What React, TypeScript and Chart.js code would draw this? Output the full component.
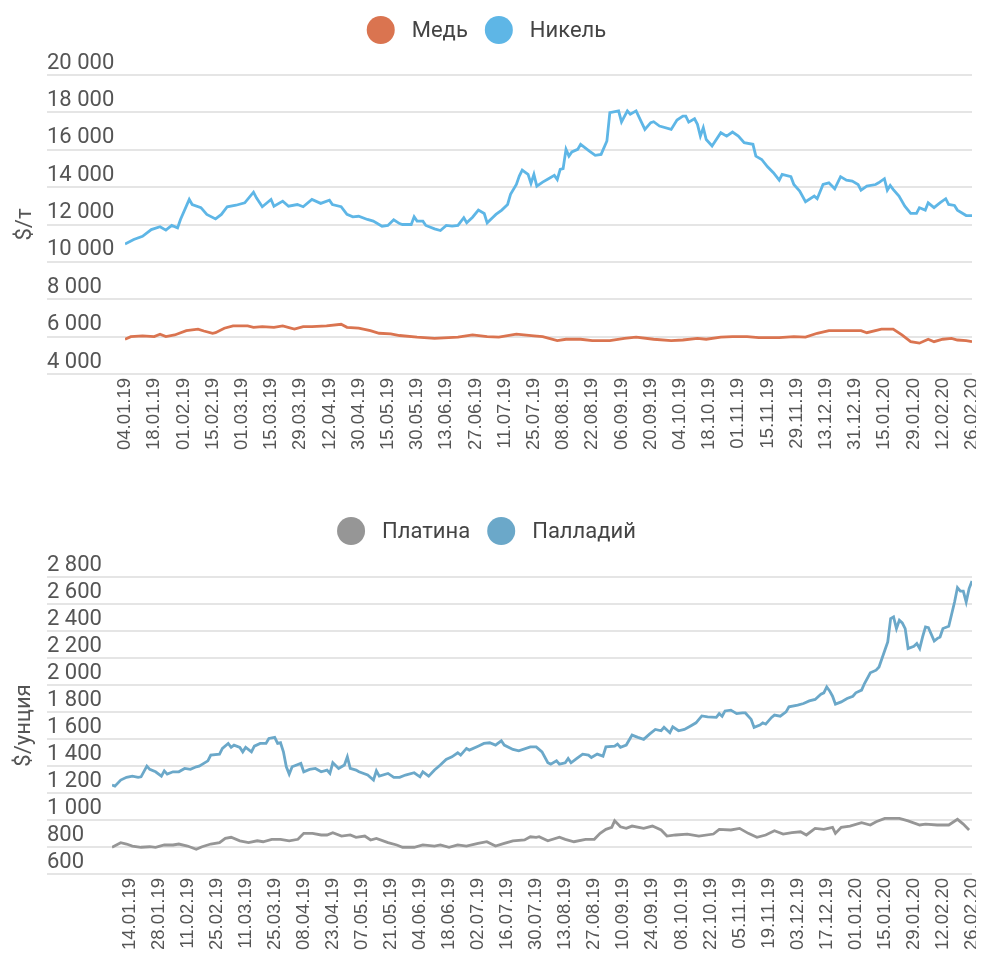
import React, { useEffect, useRef } from 'react';
import { Chart, registerables } from 'chart.js';

Chart.register(...registerables);

// ---------- Data ----------
const topDateLabels = ['04.01.19', '18.01.19', '01.02.19', '15.02.19', '01.03.19', '15.03.19', '29.03.19', '12.04.19', '30.04.19', '15.05.19', '30.05.19', '13.06.19', '27.06.19', '11.07.19', '25.07.19', '08.08.19', '22.08.19', '06.09.19', '20.09.19', '04.10.19', '18.10.19', '01.11.19', '15.11.19', '29.11.19', '13.12.19', '31.12.19', '15.01.20', '29.01.20', '12.02.20', '26.02.20'];
const bottomDateLabels = ['14.01.19', '28.01.19', '11.02.19', '25.02.19', '11.03.19', '25.03.19', '08.04.19', '23.04.19', '07.05.19', '21.05.19', '04.06.19', '18.06.19', '02.07.19', '16.07.19', '30.07.19', '13.08.19', '27.08.19', '10.09.19', '24.09.19', '08.10.19', '22.10.19', '05.11.19', '19.11.19', '03.12.19', '17.12.19', '01.01.20', '15.01.20', '29.01.20', '12.02.20', '26.02.20'];

const topYTicks = [4000, 6000, 8000, 10000, 12000, 14000, 16000, 18000, 20000];
const bottomYTicks = [600, 800, 1000, 1200, 1400, 1600, 1800, 2000, 2200, 2400, 2600, 2800];

// [trading-day index, price]
const copper: [number, number][] = [[0, 5860], [2, 6000], [6, 6040], [10, 6000], [12, 6130], [14, 6000], [17, 6090], [21, 6320], [25, 6400], [27, 6300], [30, 6180], [31, 6210], [34, 6450], [37, 6570], [42, 6570], [44, 6500], [47, 6540], [51, 6500], [54, 6570], [58, 6400], [61, 6540], [64, 6540], [69, 6570], [74, 6660], [76, 6500], [80, 6450], [84, 6320], [87, 6180], [91, 6150], [94, 6060], [100, 5970], [106, 5910], [114, 5970], [119, 6090], [124, 6000], [128, 5970], [134, 6130], [140, 6040], [143, 6000], [148, 5790], [151, 5860], [156, 5860], [160, 5790], [166, 5790], [171, 5910], [175, 5970], [181, 5860], [187, 5790], [191, 5820], [196, 5910], [199, 5860], [204, 5970], [208, 6000], [213, 6000], [217, 5950], [224, 5950], [229, 6000], [233, 5970], [237, 6180], [241, 6320], [247, 6320], [252, 6320], [254, 6210], [259, 6400], [263, 6400], [266, 6090], [269, 5730], [272, 5650], [275, 5860], [277, 5730], [280, 5860], [283, 5910], [285, 5820], [288, 5790], [290, 5730]];

const nickel: [number, number][] = [[0, 10950], [3, 11200], [6, 11370], [9, 11730], [12, 11880], [14, 11700], [16, 11950], [18, 11820], [19, 12270], [22, 13340], [23, 13070], [26, 12900], [28, 12540], [31, 12300], [33, 12540], [35, 12950], [38, 13030], [41, 13160], [44, 13730], [45, 13430], [47, 12950], [50, 13340], [51, 12980], [54, 13250], [56, 12980], [59, 13070], [61, 12950], [64, 13340], [67, 13130], [70, 13300], [71, 13070], [74, 12950], [76, 12540], [78, 12410], [80, 12440], [83, 12270], [85, 12180], [88, 11910], [90, 11950], [92, 12250], [94, 12050], [95, 12000], [98, 12000], [99, 12410], [100, 12180], [102, 12180], [103, 11950], [106, 11770], [108, 11680], [110, 11950], [112, 11910], [114, 11950], [116, 12360], [117, 12090], [119, 12390], [121, 12770], [123, 12590], [124, 12090], [126, 12390], [127, 12540], [129, 12770], [131, 13070], [132, 13610], [134, 14140], [135, 14590], [136, 14910], [138, 14680], [139, 14200], [140, 14680], [141, 14050], [143, 14270], [145, 14450], [147, 14630], [148, 14410], [149, 14950], [150, 14990], [151, 16020], [152, 15660], [153, 15880], [155, 16020], [156, 16290], [159, 15930], [161, 15700], [163, 15750], [165, 16470], [166, 17990], [169, 18080], [170, 17490], [172, 18080], [173, 17900], [175, 18080], [178, 17090], [180, 17450], [181, 17500], [183, 17270], [187, 17090], [189, 17590], [191, 17800], [192, 17800], [193, 17480], [195, 17660], [196, 17360], [197, 16730], [198, 17180], [199, 16550], [201, 16200], [204, 16910], [206, 16730], [208, 16950], [210, 16730], [212, 16380], [215, 16290], [216, 15660], [218, 15480], [220, 15090], [222, 14770], [224, 14370], [225, 14680], [228, 14560], [229, 14140], [231, 13790], [233, 13220], [236, 13520], [237, 13380], [239, 14140], [241, 14230], [243, 13910], [245, 14560], [247, 14370], [249, 14320], [251, 14140], [252, 13840], [254, 14050], [257, 14140], [258, 14230], [260, 14450], [261, 13840], [262, 14090], [263, 13880], [265, 13520], [267, 12980], [269, 12590], [271, 12590], [272, 12900], [274, 12770], [275, 13160], [277, 12900], [279, 13160], [281, 13380], [282, 13070], [284, 13020], [285, 12770], [288, 12480], [290, 12480]];

const platinum: [number, number][] = [[-6, 798], [-3, 832], [-1, 822], [1, 807], [4, 798], [7, 802], [9, 798], [12, 815], [15, 815], [17, 822], [20, 807], [23, 783], [25, 802], [28, 822], [31, 832], [33, 864], [35, 872], [38, 846], [41, 832], [44, 846], [46, 839], [49, 857], [52, 857], [55, 846], [58, 857], [60, 901], [63, 901], [66, 889], [68, 889], [70, 906], [73, 881], [76, 889], [78, 872], [81, 881], [83, 852], [85, 864], [89, 832], [92, 815], [94, 798], [98, 798], [101, 815], [105, 807], [107, 815], [110, 798], [113, 815], [116, 807], [120, 827], [123, 839], [126, 807], [129, 827], [132, 846], [136, 852], [138, 876], [140, 872], [141, 876], [144, 846], [148, 872], [150, 857], [153, 839], [157, 857], [160, 857], [162, 901], [164, 931], [166, 946], [167, 994], [169, 950], [171, 938], [173, 955], [177, 938], [180, 955], [183, 926], [185, 881], [188, 889], [192, 896], [196, 881], [201, 896], [203, 931], [207, 926], [210, 938], [213, 901], [216, 872], [219, 889], [222, 920], [225, 896], [228, 906], [231, 913], [233, 889], [236, 938], [239, 931], [242, 946], [243, 901], [245, 946], [248, 955], [252, 980], [255, 963], [257, 987], [260, 1012], [263, 1012], [265, 1012], [268, 994], [272, 963], [274, 970], [278, 963], [282, 963], [285, 1005], [287, 970], [289, 926]];

const palladium: [number, number][] = [[-6, 1259], [-5, 1251], [-3, 1296], [-1, 1316], [1, 1325], [3, 1316], [4, 1320], [6, 1399], [7, 1375], [9, 1357], [11, 1325], [12, 1364], [13, 1340], [15, 1357], [17, 1357], [19, 1382], [21, 1375], [23, 1394], [24, 1399], [27, 1438], [28, 1481], [31, 1488], [32, 1530], [34, 1567], [35, 1538], [36, 1555], [38, 1538], [39, 1505], [40, 1538], [42, 1505], [43, 1547], [45, 1567], [47, 1567], [48, 1604], [50, 1612], [51, 1567], [52, 1572], [53, 1505], [54, 1394], [55, 1340], [56, 1394], [59, 1419], [60, 1357], [62, 1375], [64, 1382], [66, 1357], [68, 1370], [69, 1345], [70, 1424], [72, 1382], [74, 1407], [75, 1468], [76, 1382], [78, 1370], [79, 1357], [82, 1333], [84, 1296], [85, 1364], [86, 1325], [89, 1345], [91, 1316], [93, 1316], [95, 1333], [98, 1350], [100, 1320], [101, 1357], [103, 1325], [105, 1370], [107, 1407], [109, 1449], [111, 1468], [113, 1498], [114, 1481], [116, 1530], [117, 1518], [120, 1547], [122, 1567], [124, 1572], [126, 1555], [128, 1587], [129, 1555], [132, 1523], [134, 1512], [138, 1542], [140, 1542], [141, 1523], [142, 1505], [144, 1424], [145, 1414], [147, 1438], [148, 1414], [150, 1424], [151, 1456], [152, 1424], [154, 1456], [156, 1488], [158, 1481], [159, 1463], [161, 1488], [163, 1473], [164, 1542], [167, 1547], [168, 1562], [169, 1538], [171, 1555], [173, 1629], [175, 1612], [177, 1597], [179, 1636], [181, 1671], [183, 1661], [184, 1686], [185, 1666], [186, 1646], [187, 1690], [189, 1661], [191, 1671], [193, 1695], [195, 1720], [197, 1771], [199, 1764], [202, 1760], [203, 1788], [204, 1769], [205, 1808], [207, 1814], [209, 1788], [211, 1793], [212, 1793], [214, 1745], [215, 1686], [217, 1703], [218, 1720], [219, 1710], [221, 1760], [222, 1777], [224, 1769], [226, 1801], [227, 1838], [230, 1851], [232, 1863], [234, 1882], [236, 1893], [238, 1932], [239, 1942], [240, 1986], [241, 1956], [242, 1917], [243, 1858], [245, 1875], [247, 1900], [249, 1917], [250, 1942], [252, 1962], [253, 2011], [255, 2090], [257, 2110], [258, 2134], [260, 2258], [261, 2319], [262, 2492], [263, 2504], [264, 2418], [265, 2480], [266, 2460], [267, 2418], [268, 2270], [270, 2287], [271, 2307], [272, 2270], [273, 2356], [274, 2430], [275, 2425], [277, 2326], [278, 2344], [279, 2356], [280, 2418], [282, 2435], [284, 2615], [285, 2722], [286, 2696], [287, 2696], [288, 2615], [289, 2714], [290, 2770]];

// ---------- Helpers ----------
const fmt = (v: number) => String(Math.round(v)).replace(/\B(?=(\d{3})+(?!\d))/g, ' ');

const overlayPlugin = {
  id: 'overlay',
  afterDraw(chart: any, _args: any, opts: any) {
    const ctx = chart.ctx as CanvasRenderingContext2D;
    const area = chart.chartArea;
    ctx.save();
    // legend
    ctx.font = `${opts.fontSize}px Roboto`;
    const items = chart.data.datasets.map((ds: any) => ({
      text: ds.label as string,
      color: ds.borderColor as string,
      w: ctx.measureText(ds.label).width,
    }));
    const D = opts.dot;
    const g = opts.gap;
    const sp = opts.spacing;
    const total = items.reduce((s: number, it: any) => s + D + g + it.w, 0) + sp * (items.length - 1);
    let x = chart.width / 2 + opts.shiftX - total / 2;
    const y = opts.legendY;
    ctx.textBaseline = 'middle';
    ctx.textAlign = 'left';
    for (const it of items) {
      ctx.fillStyle = it.color;
      ctx.beginPath();
      ctx.arc(x + D / 2, y, D / 2, 0, Math.PI * 2);
      ctx.fill();
      x += D + g;
      ctx.fillStyle = '#444';
      ctx.fillText(it.text, x, y + 1);
      x += it.w + sp;
    }
    // axis title
    ctx.translate(opts.titleX, (area.top + area.bottom) / 2);
    ctx.rotate(-Math.PI / 2);
    ctx.textAlign = 'center';
    ctx.fillStyle = '#555';
    ctx.font = '22px Roboto';
    ctx.fillText(opts.title, 0, 0);
    ctx.restore();
  },
};

type Props = {
  height: number;
  series: { label: string; color: string; data: [number, number][] }[];
  xLabels: string[];
  xMin: number;
  yTicks: number[];
  yWidth: number;
  padTop: number;
  padBottom: number;
  legendY: number;
  title: string;
  titleX: number;
};

function PriceChart(p: Props) {
  const ref = useRef<HTMLCanvasElement>(null);
  useEffect(() => {
    const chart = new Chart(ref.current as HTMLCanvasElement, {
      type: 'line',
      data: {
        datasets: p.series.map((s) => ({
          label: s.label,
          data: s.data.map(([x, y]) => ({ x, y })),
          borderColor: s.color,
          backgroundColor: s.color,
          borderWidth: 2.8,
          pointRadius: 0,
          tension: 0,
          fill: false,
        })),
      },
      options: {
        animation: false,
        responsive: false,
        layout: { padding: { top: p.padTop, bottom: p.padBottom, left: 39, right: 4 } },
        plugins: {
          legend: { display: false },
          tooltip: { enabled: false },
          overlay: {
            legendY: p.legendY,
            shiftX: -5.5,
            dot: 28,
            gap: 17,
            spacing: 17,
            fontSize: 22,
            title: p.title,
            titleX: p.titleX,
          },
        } as any,
        scales: {
          x: {
            type: 'linear',
            min: p.xMin,
            max: 290,
            afterBuildTicks: (s: any) => {
              s.ticks = p.xLabels.map((_, i) => ({ value: i * 10 }));
            },
            ticks: {
              autoSkip: false,
              minRotation: 90,
              maxRotation: 90,
              padding: 4,
              color: '#555',
              font: { family: 'Liberation Sans', size: 18.5 },
              callback: (_v: any, i: number) => p.xLabels[i] ?? '',
            },
            grid: { display: false, drawTicks: false },
            border: { display: false },
            afterFit: (s: any) => {
              s.height = 80;
              s.paddingLeft = 0;
              s.paddingRight = 0;
            },
          },
          y: {
            min: p.yTicks[0],
            max: p.yTicks[p.yTicks.length - 1],
            afterBuildTicks: (s: any) => {
              s.ticks = p.yTicks.map((v) => ({ value: v }));
            },
            ticks: {
              autoSkip: false,
              crossAlign: 'far',
              padding: 0,
              labelOffset: -12,
              color: '#555',
              font: { family: 'Roboto', size: 22 },
              callback: (v: any) => fmt(Number(v)),
            },
            grid: { color: '#e5e5e5', lineWidth: 2, tickLength: p.yWidth, drawTicks: true },
            border: { display: false },
            afterFit: (s: any) => {
              s.width = p.yWidth;
              s.paddingTop = 0;
              s.paddingBottom = 0;
            },
          },
        } as any,
      },
      plugins: [overlayPlugin as any],
    });
    return () => chart.destroy();
  }, []);
  return <canvas ref={ref} width={968} height={p.height} style={{ display: 'block', width: 968, height: p.height }} />;
}

export default function App() {
  return (
    <div style={{ width: 968, background: '#fff' }}>
      <PriceChart
        height={480}
        series={[
          { label: 'Медь', color: '#da7450', data: copper },
          { label: 'Никель', color: '#5eb6e6', data: nickel },
        ]}
        xLabels={topDateLabels}
        xMin={0}
        yTicks={topYTicks}
        yWidth={78}
        padTop={67}
        padBottom={34}
        legendY={22}
        title="$/т"
        titleX={17}
      />
      <PriceChart
        height={472}
        series={[
          { label: 'Платина', color: '#969696', data: platinum },
          { label: 'Палладий', color: '#6ba8c9', data: palladium },
        ]}
        xLabels={bottomDateLabels}
        xMin={-6}
        yTicks={bottomYTicks}
        yWidth={65}
        padTop={89}
        padBottom={6}
        legendY={43}
        title="$/унция"
        titleX={16}
      />
    </div>
  );
}
